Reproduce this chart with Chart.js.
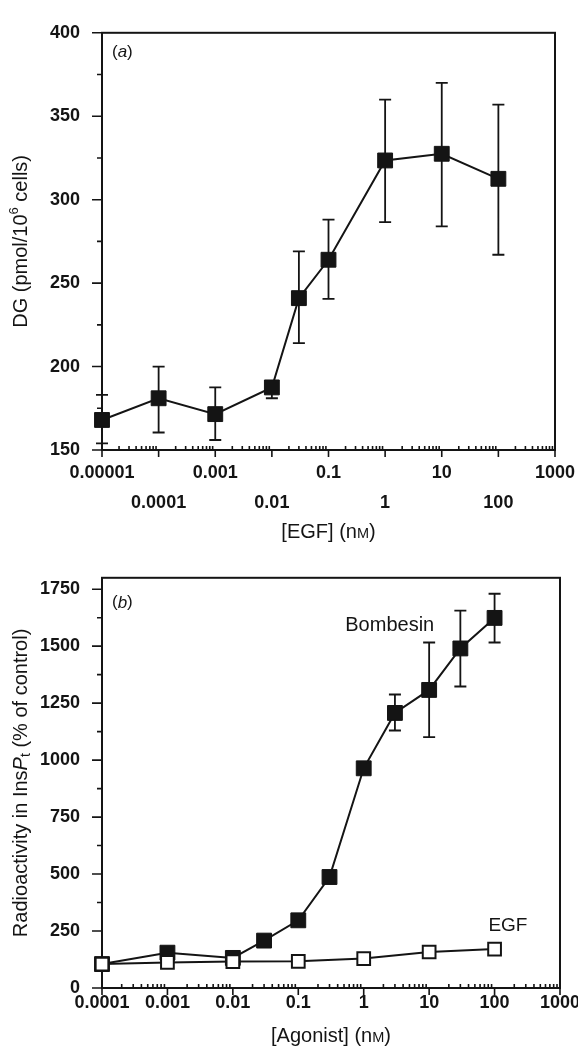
<!DOCTYPE html>
<html>
<head>
<meta charset="utf-8">
<script src="https://cdn.jsdelivr.net/npm/chart.js@4.4.0/dist/chart.umd.min.js"></script>
<style>
  html, body { margin: 0; padding: 0; background: #fff; overflow: hidden; width: 578px; height: 1047px; }
  canvas { position: absolute; left: 0; }
  #chart-a { top: 0; }
  #chart-b { top: 545px; }
</style>
</head>
<body>
<canvas id="chart-a" width="620" height="545"></canvas>
<canvas id="chart-b" width="620" height="502"></canvas>
<script>
"use strict";
// panel (a): DG vs [EGF]
const egfDoseA = [0.00001, 0.0001, 0.001, 0.01, 0.03, 0.1, 1, 10, 100];
const dgMean = [168, 181, 171.5, 187.5, 241, 264, 323.5, 327.5, 312.5];
const dgHigh = [183, 200, 187.5, 191, 269, 288, 360, 370, 357];
const dgLow = [154, 160.5, 156, 181, 214, 240.5, 286.5, 284, 267];
const decadesA = [0.00001, 0.0001, 0.001, 0.01, 0.1, 1, 10, 100, 1000];
const labelsA = ["0.00001", "0.0001", "0.001", "0.01", "0.1", "1", "10", "100", "1000"];
const yTicksA = [150, 200, 250, 300, 350, 400];
const yMinorA = [175, 225, 275, 325, 375];

// panel (b): InsPt vs [agonist]
const bombesinDose = [0.0001, 0.001, 0.01, 0.03, 0.1, 0.3, 1, 3, 10, 30, 100];
const bombesinMean = [105, 155, 132, 208, 297, 487, 964, 1207, 1308, 1490, 1624];
const bombesinHigh = [null, null, null, null, null, null, null, 1288, 1516, 1656, 1730];
const bombesinLow = [null, null, null, null, null, null, null, 1130, 1101, 1323, 1516];
const egfDoseB = [0.0001, 0.001, 0.01, 0.1, 1, 10, 100];
const egfInsP = [105, 112, 116, 117, 129, 158, 171];
const decadesB = [0.0001, 0.001, 0.01, 0.1, 1, 10, 100, 1000];
const labelsB = ["0.0001", "0.001", "0.01", "0.1", "1", "10", "100", "1000"];
const yTicksB = [0, 250, 500, 750, 1000, 1250, 1500, 1750];
const yMinorB = [125, 375, 625, 875, 1125, 1375, 1625];

const INK = "#141414";
const FAM = '"Liberation Sans", Arial, Helvetica, sans-serif';
const tickFont = { family: FAM, size: 18, weight: "bold" };

function drawRich(ctx, parts, x, y, rot, align) {
    ctx.save();
    ctx.translate(x, y);
    ctx.rotate(rot || 0);
    let total = 0;
    parts.forEach(p => {
        ctx.font = p.font;
        p.w = ctx.measureText(p.text).width;
        total += p.w;
    });
    let cx = align === "left" ? 0 : -total / 2;
    ctx.textBaseline = "middle";
    ctx.textAlign = "left";
    ctx.fillStyle = INK;
    parts.forEach(p => {
        ctx.font = p.font;
        ctx.fillText(p.text, cx, p.dy || 0);
        cx += p.w;
    });
    ctx.restore();
}

const f = (size, style) => (style || "") + " " + size + "px " + FAM;

const axisFrame = {
    id: "axisFrame",
    beforeDatasetsDraw(chart, args, opts) {
        const { ctx, chartArea: a, scales: { x, y } } = chart;
        ctx.save();
        ctx.strokeStyle = INK;
        ctx.lineWidth = 2;
        ctx.strokeRect(a.left, a.top, a.right - a.left, a.bottom - a.top);
        ctx.lineWidth = 1.6;
        ctx.beginPath();
        opts.yMajor.forEach(v => {
            const p = y.getPixelForValue(v);
            ctx.moveTo(a.left - 10, p);
            ctx.lineTo(a.left, p);
        });
        opts.yMinor.forEach(v => {
            const p = y.getPixelForValue(v);
            ctx.moveTo(a.left - 5, p);
            ctx.lineTo(a.left, p);
        });
        opts.decades.forEach((d, i) => {
            const p = x.getPixelForValue(d);
            ctx.moveTo(p, a.bottom);
            ctx.lineTo(p, a.bottom + 7);
            if (i === opts.decades.length - 1) return;
            for (let k = 2; k <= 9; k++) {
                const q = x.getPixelForValue(d * k);
                ctx.moveTo(q, a.bottom);
                ctx.lineTo(q, a.bottom - 4);
            }
        });
        ctx.stroke();

        // error bars
        ctx.lineWidth = 1.8;
        ctx.beginPath();
        chart.data.datasets.forEach(ds => {
            if (!ds.errHigh) return;
            ds.data.forEach((pt, j) => {
                if (ds.errHigh[j] == null) return;
                const px = x.getPixelForValue(pt.x);
                const ph = y.getPixelForValue(ds.errHigh[j]);
                const pl = y.getPixelForValue(ds.errLow[j]);
                ctx.moveTo(px, ph);
                ctx.lineTo(px, pl);
                ctx.moveTo(px - 6, ph);
                ctx.lineTo(px + 6, ph);
                ctx.moveTo(px - 6, pl);
                ctx.lineTo(px + 6, pl);
            });
        });
        ctx.stroke();
        ctx.restore();
    },
    afterDraw(chart, args, opts) {
        const { ctx, chartArea: a, scales: { x, y } } = chart;
        const midY = (a.top + a.bottom) / 2;
        const midX = (a.left + a.right) / 2;
        drawRich(ctx, [
            { text: "(", font: f(17) },
            { text: opts.panel, font: f(17, "italic") },
            { text: ")", font: f(17) }
        ], a.left + 10, a.top + opts.panelDy, 0, "left");
        drawRich(ctx, opts.yTitle, 21, midY, -Math.PI / 2);
        drawRich(ctx, opts.xTitle, midX, opts.xTitleY, 0);
        (opts.notes || []).forEach(n => {
            drawRich(ctx, [{ text: n.text, font: f(n.size) }],
                x.getPixelForValue(n.x), y.getPixelForValue(n.y), 0);
        });
    }
};

const baseX = (min, max, decades, height) => ({
    type: "logarithmic",
    min: min,
    max: max,
    grid: { display: false, drawTicks: false },
    border: { display: false },
    afterBuildTicks: s => { s.ticks = decades.map(v => ({ value: v })); },
    afterFit: s => { s.height = height; }
});

const baseY = (min, max, ticks) => ({
    min: min,
    max: max,
    grid: { display: false, drawTicks: false },
    border: { display: false },
    afterBuildTicks: s => { s.ticks = ticks.map(v => ({ value: v })); },
    afterFit: s => { s.width = 102; },
    ticks: { padding: 22, color: INK, font: tickFont, callback: v => String(v) }
});

const xA = baseX(0.00001, 1000, decadesA, 95);
xA.ticks = {
    autoSkip: false, maxRotation: 0, padding: 8, color: INK,
    font: { family: FAM, size: 18, weight: "bold", lineHeight: "30px" },
    callback: (v, i) => i % 2 === 0 ? [labelsA[i], ""] : ["", labelsA[i]]
};

new Chart(document.getElementById("chart-a"), {
    type: "line",
    data: {
        datasets: [{
            data: egfDoseA.map((d, i) => ({ x: d, y: dgMean[i] })),
            errHigh: dgHigh,
            errLow: dgLow,
            borderColor: INK,
            borderWidth: 2,
            pointStyle: "rect",
            pointRadius: 10.5,
            pointBackgroundColor: INK,
            pointBorderColor: INK,
            pointBorderWidth: 1,
            tension: 0,
            clip: false
        }]
    },
    options: {
        responsive: false,
        animation: false,
        devicePixelRatio: 1,
        layout: { padding: { top: 22, right: 65, left: 0, bottom: 0 } },
        plugins: {
            legend: { display: false },
            tooltip: { enabled: false },
            axisFrame: {
                panel: "a",
                panelDy: 19.5,
                yMajor: yTicksA,
                yMinor: yMinorA,
                decades: decadesA,
                xTitleY: 532,
                yTitle: [
                    { text: "DG (pmol/10", font: f(20) },
                    { text: "6", font: f(13), dy: -7 },
                    { text: " cells)", font: f(20) }
                ],
                xTitle: [
                    { text: "[EGF] (n", font: f(20) },
                    { text: "M", font: f(14.5), dy: 1.5 },
                    { text: ")", font: f(20) }
                ]
            }
        },
        scales: {
            x: xA,
            y: baseY(150, 400, yTicksA)
        }
    },
    plugins: [axisFrame]
});

const xB = baseX(0.0001, 1000, decadesB, 59);
xB.ticks = {
    autoSkip: false, maxRotation: 0, padding: 4, color: INK, font: tickFont,
    callback: (v, i) => labelsB[i]
};

new Chart(document.getElementById("chart-b"), {
    type: "line",
    data: {
        datasets: [{
            label: "Bombesin",
            order: 1,
            data: bombesinDose.map((d, i) => ({ x: d, y: bombesinMean[i] })),
            errHigh: bombesinHigh,
            errLow: bombesinLow,
            borderColor: INK,
            borderWidth: 2,
            pointStyle: "rect",
            pointRadius: 10.5,
            pointBackgroundColor: INK,
            pointBorderColor: INK,
            pointBorderWidth: 1,
            tension: 0,
            clip: false
        }, {
            label: "EGF",
            order: 0,
            data: egfDoseB.map((d, i) => ({ x: d, y: egfInsP[i] })),
            borderColor: INK,
            borderWidth: 2,
            pointStyle: "rect",
            pointRadius: 9,
            pointBackgroundColor: "#ffffff",
            pointBorderColor: INK,
            pointBorderWidth: 2,
            tension: 0,
            clip: false
        }]
    },
    options: {
        responsive: false,
        animation: false,
        devicePixelRatio: 1,
        layout: { padding: { top: 16, right: 60, left: 0, bottom: 0 } },
        plugins: {
            legend: { display: false },
            tooltip: { enabled: false },
            axisFrame: {
                panel: "b",
                panelDy: 25,
                yMajor: yTicksB,
                yMinor: yMinorB,
                decades: decadesB,
                xTitleY: 491,
                yTitle: [
                    { text: "Radioactivity in Ins", font: f(20) },
                    { text: "P", font: f(20, "italic") },
                    { text: "t", font: f(14), dy: 5 },
                    { text: " (% of control)", font: f(20) }
                ],
                xTitle: [
                    { text: "[Agonist] (n", font: f(20) },
                    { text: "M", font: f(14.5), dy: 1.5 },
                    { text: ")", font: f(20) }
                ],
                notes: [
                    { text: "Bombesin", size: 20, x: 2.5, y: 1590 },
                    { text: "EGF", size: 19, x: 160, y: 274 }
                ]
            }
        },
        scales: {
            x: xB,
            y: baseY(0, 1800, yTicksB)
        }
    },
    plugins: [axisFrame]
});
</script>
</body>
</html>
